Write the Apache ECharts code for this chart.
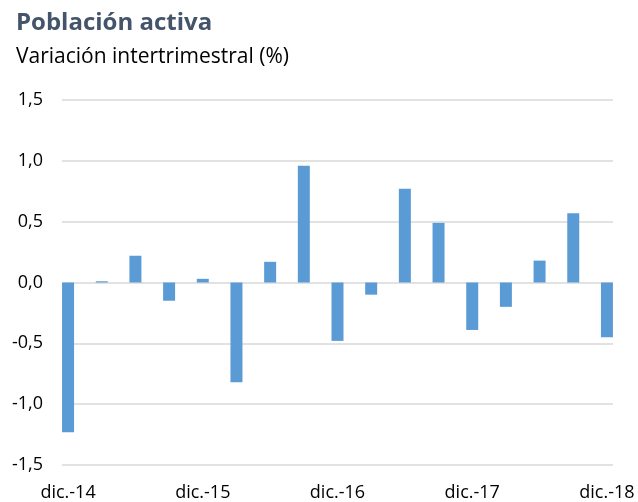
<!DOCTYPE html>
<html>
<head>
<meta charset="utf-8">
<script src="https://cdn.jsdelivr.net/npm/echarts@6/dist/echarts.min.js"></script>
<style>html,body{margin:0;padding:0;background:#fff}#c{width:638px;height:502px}</style>
</head>
<body>
<div id="c"></div>
<script>
const categories = ['dic.-14','mar.-15','jun.-15','sep.-15','dic.-15','mar.-16','jun.-16','sep.-16','dic.-16','mar.-17','jun.-17','sep.-17','dic.-17','mar.-18','jun.-18','sep.-18','dic.-18'];
const values = [-1.23, 0.01, 0.22, -0.15, 0.03, -0.82, 0.17, 0.96, -0.48, -0.10, 0.77, 0.49, -0.39, -0.20, 0.18, 0.57, -0.45];
const labelPositions = [0, 4, 8, 12, 16];
const yTicks = [-1.5, -1.0, -0.5, 0.0, 0.5, 1.0, 1.5];

const font = '"Open Sans", "Liberation Sans", sans-serif';
const chart = echarts.init(document.getElementById('c'));
chart.setOption({
  animation: false,
  title: {
    text: 'Población activa',
    subtext: 'Variación intertrimestral (%)',
    left: 11, top: 6,
    itemGap: 12,
    textStyle: { fontFamily: font, fontSize: 24, fontWeight: 'bold', color: '#44546A' },
    subtextStyle: { fontFamily: font, fontSize: 21, color: '#000' }
  },
  grid: { left: 62, right: 25, top: 100, bottom: 36 },
  xAxis: {
    type: 'value',
    min: -0.18, max: 16.18,
    axisLine: { show: false },
    axisTick: { show: false },
    splitLine: { show: false },
    axisLabel: {
      customValues: labelPositions,
      formatter: v => categories[Math.round(v)],
      fontFamily: font, fontSize: 18, color: '#000', margin: 19
    }
  },
  yAxis: {
    type: 'value',
    min: yTicks[0], max: yTicks[yTicks.length - 1], interval: 0.5,
    axisLine: { show: false },
    axisTick: { show: false },
    splitLine: { lineStyle: { color: '#d9d9d9', width: 1.5 } },
    axisLabel: {
      formatter: v => v.toFixed(1).replace('.', ','),
      fontFamily: font, fontSize: 18, color: '#000', margin: 19
    }
  },
  series: [{
    type: 'bar',
    data: values.map((v, i) => [i, v]),
    barWidth: 12,
    itemStyle: { color: '#5B9BD5' }
  }]
});
</script>
</body>
</html>
